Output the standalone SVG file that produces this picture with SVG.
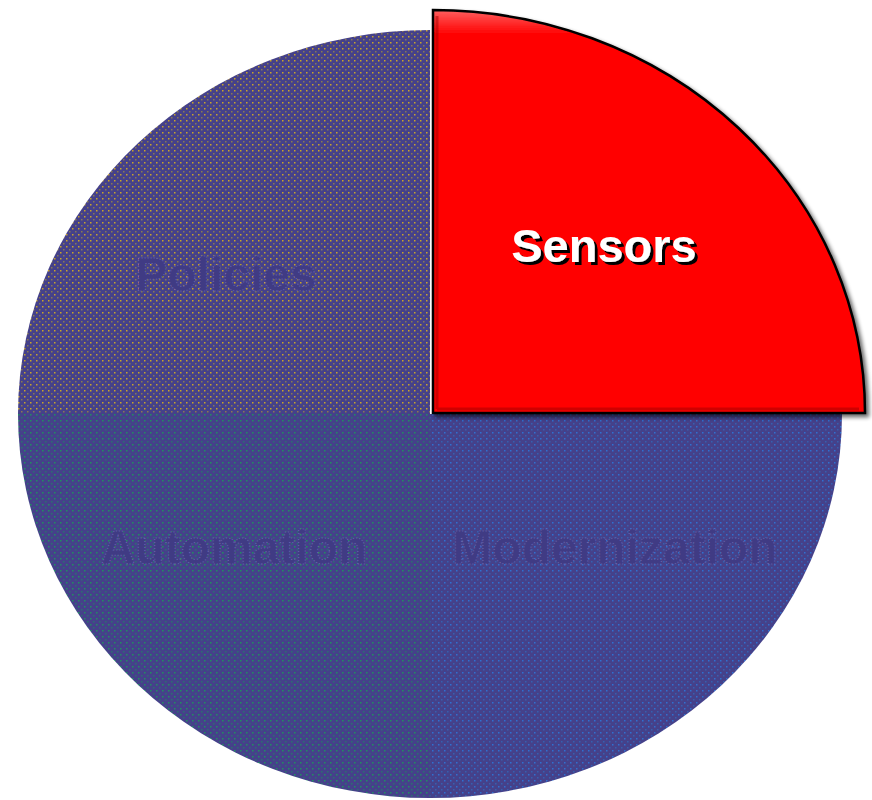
<svg xmlns="http://www.w3.org/2000/svg" width="872" height="800" viewBox="0 0 872 800">
<style>
.lbl{font-family:"Liberation Sans",Arial,sans-serif;font-weight:bold;font-size:48px;text-anchor:middle}
.ghost{fill:#403b84;stroke:#6b68b0;stroke-width:1;stroke-dasharray:1 2}
.sens{fill:#ffffff;font-size:47px}
</style>
<defs>
<pattern id="pY" width="6" height="6" patternUnits="userSpaceOnUse">
<rect width="6" height="6" fill="#45418a"/>
<rect x="0" y="0" width="1.5" height="1.5" fill="#c9a428"/>
<rect x="3" y="3" width="1.5" height="1.5" fill="#8a7a50"/>
</pattern>
<pattern id="pG" width="6" height="6" patternUnits="userSpaceOnUse">
<rect width="6" height="6" fill="#45418a"/>
<rect x="0" y="0" width="1.5" height="1.5" fill="#1f9060"/>
<rect x="3" y="3" width="1.5" height="1.5" fill="#2a7070"/>
</pattern>
<pattern id="pB" width="6" height="6" patternUnits="userSpaceOnUse">
<rect width="6" height="6" fill="#45418a"/>
<rect x="0" y="0" width="1.5" height="1.5" fill="#2f70d0"/>
<rect x="3" y="3" width="1.5" height="1.5" fill="#3560b0"/>
</pattern>
<linearGradient id="bev" x1="0" y1="0" x2="0" y2="1">
<stop offset="0" stop-color="#ff6060"/>
<stop offset="0.06" stop-color="#ff0000"/>
<stop offset="1" stop-color="#ff0000"/>
</linearGradient>
<filter id="sh" x="-5%" y="-5%" width="115%" height="115%">
<feGaussianBlur in="SourceAlpha" stdDeviation="2"/>
<feOffset dx="3" dy="3"/>
<feComponentTransfer><feFuncA type="linear" slope="0.6"/></feComponentTransfer>
<feMerge><feMergeNode/><feMergeNode in="SourceGraphic"/></feMerge>
</filter>
<filter id="tsh" x="-5%" y="-20%" width="115%" height="150%">
<feOffset in="SourceAlpha" dx="3" dy="3" result="o"/>
<feFlood flood-color="#000000"/>
<feComposite in2="o" operator="in"/>
<feMerge><feMergeNode/><feMergeNode in="SourceGraphic"/></feMerge>
</filter>
</defs>
<rect width="872" height="800" fill="#ffffff"/>
<g id="policies">
<path d="M430,414 L430,30 A412,384 0 0 0 18,414 Z" fill="url(#pY)"/>
<text class="lbl ghost" x="226" y="291">Policies</text>
</g>
<g id="automation">
<path d="M430,414 L18,414 A412,384 0 0 0 430,798 Z" fill="url(#pG)"/>
<text class="lbl ghost" x="234" y="564">Automation</text>
</g>
<g id="modernization">
<path d="M430,414 L430,798 A412,384 0 0 0 842,414 Z" fill="url(#pB)"/>
<text class="lbl ghost" x="615" y="564">Modernization</text>
</g>
<g id="connectors"/>
<g id="sensors">
<path d="M433,413 L433,10 A432,403 0 0 1 865,413 Z" fill="url(#bev)" stroke="#000000" stroke-width="2.5" filter="url(#sh)"/>
<path d="M437,409 L437,16 M437,409 L859,409" fill="none" stroke="#a00000" stroke-width="3" opacity="0.5"/>
<text class="lbl sens" x="604" y="262" filter="url(#tsh)">Sensors</text>
</g>
</svg>
